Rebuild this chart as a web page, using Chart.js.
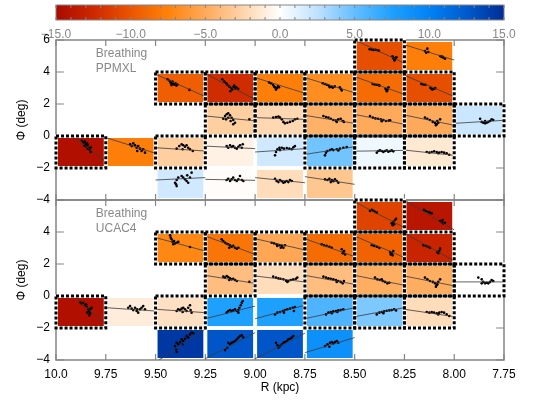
<!DOCTYPE html>
<html><head><meta charset="utf-8">
<script src="https://cdn.jsdelivr.net/npm/chart.js@4"></script>
<style>html,body{margin:0;padding:0;background:#fff}#wrap{position:relative;width:560px;height:400px}canvas{display:block}</style>
</head><body><div id="wrap"><canvas id="c" width="560" height="400"></canvas></div>
<script>
// ---------- axes ----------
const rBinEdges = [10.0, 9.75, 9.5, 9.25, 9.0, 8.75, 8.5, 8.25, 8.0, 7.75];
const xTickLabels = ['10.0','9.75','9.50','9.25','9.00','8.75','8.50','8.25','8.00','7.75'];
const phiTicks = [-4, -2, 0, 2, 4, 6];
const phiTickLabelsTop = ['\u22124','\u22122','0','2','4','6'];
const phiTickLabelsBot = ['\u22124','\u22122','0','2','4',''];
const phiBin = 2;
const cbarTicks = [-15, -10, -5, 0, 5, 10, 15];
const cbarLabels = ['\u221215.0','\u221210.0','\u22125.0','0.0','5.0','10.0','15.0'];
const cmapValues = [-15, -12.5, -10, -7.5, -5, -2.5, 0, 2.5, 5, 7.5, 10, 12.5, 15];
const cmapColors = [[170,10,0],[205,40,0],[235,85,0],[255,130,10],[255,170,90],[255,212,170],[255,255,255],[190,225,255],[100,190,255],[30,160,255],[0,130,245],[0,90,205],[0,45,150]];

// ---------- PPMXL (top panel) ----------
const ppmxlCol  = [6,7, 2,3,4,5,6,7, 3,4,5,6,7,8, 0,1,2,3,4,5,6,7, 2,3,4,5];
const ppmxlPhi0 = [4,4, 2,2,2,2,2,2, 0,0,0,0,0,0, -2,-2,-2,-2,-2,-2,-2,-2, -4,-4,-4,-4];
const ppmxlVal  = [-10.4,-7.7, -9.5,-12.3,-7.7,-6.8,-8.7,-10.4, -2.8,-2.3,-4.6,-5.0,-5.0,2.0, -14.5,-7.7,-2.8,-0.8,1.8,4.6,0.6,-1.3, 1.8,-0.15,-2.0,-3.3];
const ppmxlSig  = [1,0, 1,1,1,1,1,1, 1,1,1,1,1,1, 1,0,1,0,0,1,1,1, 0,0,0,0];
const ppmxlFitL = [6.0,5.7, 3.86,3.9,3.65,3.65,3.71,3.8, 1.25,1.15,1.29,1.35,1.31,0.79, 0.78,-0.1,-0.73,-0.63,-1.0,-1.15,-0.95,-0.88, -2.75,-2.71,-2.6,-2.54];
const ppmxlFitR = [4.55,4.75, 2.46,2.29,2.67,2.7,2.6,2.46, 0.95,1.04,0.79,0.73,0.67,0.98, -1.6,-1.08,-0.94,-0.79,-0.79,-0.67,-0.9,-1.21, -2.6,-2.77,-2.92,-3.02];
const ppmxlPts = [
 [[8.425,5.42],[8.415,5.40],[8.405,5.38],[8.395,5.39],[8.385,5.36],[8.378,5.33],[8.31,4.98],[8.305,4.85],[8.30,4.80],[8.295,4.88],[8.29,4.92],[8.30,4.72]],
 [[8.147,5.31],[8.135,5.46],[8.141,5.21],[8.130,5.25],[8.071,5.0],[8.063,4.94],[8.055,4.90],[8.046,4.83],[8.06,4.97]],
 [[9.44,3.55],[9.43,3.45],[9.425,3.35],[9.42,3.30],[9.415,3.40],[9.41,3.25],[9.405,3.20],[9.40,3.30],[9.395,3.15],[9.39,3.22],[9.42,3.18],[9.33,2.88]],
 [[9.165,3.55],[9.155,3.40],[9.145,3.30],[9.14,3.20],[9.13,3.10],[9.12,3.00],[9.115,2.90],[9.11,3.05],[9.10,2.95],[9.095,3.05],[9.085,2.95],[9.125,2.80],[9.105,3.15]],
 [[8.93,3.35],[8.92,3.30],[8.91,3.20],[8.905,3.10],[8.90,3.05],[8.895,2.95],[8.89,3.00],[8.885,3.10],[8.88,3.05],[8.895,2.90]],
 [[8.66,3.30],[8.65,3.25],[8.64,3.20],[8.63,3.15],[8.625,3.05],[8.615,3.08],[8.61,3.02],[8.575,3.05],[8.57,2.95],[8.565,2.85],[8.60,3.10]],
 [[8.41,3.25],[8.40,3.22],[8.39,3.20],[8.38,3.18],[8.345,2.95],[8.34,2.85],[8.335,2.90],[8.33,3.05],[8.338,2.80],[8.375,3.15]],
 [[8.165,3.25],[8.155,3.22],[8.145,3.20],[8.115,2.95],[8.11,2.90],[8.10,2.95],[8.095,3.00],[8.12,3.02]],
 [[9.160,1.08],[9.151,1.25],[9.143,1.36],[9.135,1.42],[9.126,1.29],[9.118,1.14],[9.110,1.0],[9.101,0.83],[9.123,0.94],[9.135,1.14],[9.146,1.04],[9.110,0.73],[9.029,1.04]],
 [[8.909,1.15],[8.895,1.19],[8.883,1.21],[8.875,1.15],[8.866,1.04],[8.858,0.88],[8.850,0.79],[8.838,0.83],[8.825,0.88],[8.811,0.94],[8.800,1.04],[8.788,1.08]],
 [[8.657,1.25],[8.644,1.19],[8.632,1.15],[8.620,1.08],[8.607,1.0],[8.594,0.96],[8.582,1.04],[8.570,1.08],[8.560,0.94],[8.554,0.88],[8.590,0.88]],
 [[8.423,1.25],[8.409,1.15],[8.396,1.1],[8.383,1.08],[8.369,1.04],[8.356,1.0],[8.343,0.94],[8.329,0.96],[8.322,0.98],[8.364,0.92]],
 [[8.147,1.15],[8.135,1.08],[8.122,1.0],[8.108,0.88],[8.096,0.81],[8.088,0.73],[8.080,0.83],[8.071,1.04],[8.085,0.94],[8.092,0.67]],
 [[7.870,1.08],[7.862,0.88],[7.854,0.83],[7.845,0.79],[7.837,0.83],[7.829,0.88],[7.820,0.94],[7.812,1.04],[7.804,1.0],[7.845,0.94]],
 [[9.87,-0.30],[9.862,-0.40],[9.855,-0.35],[9.85,-0.50],[9.845,-0.45],[9.858,-0.60],[9.848,-0.65],[9.84,-0.55],[9.835,-0.75],[9.83,-0.85],[9.825,-0.70],[9.826,-1.00],[9.84,-0.80]],
 [[9.628,-0.52],[9.620,-0.63],[9.612,-0.46],[9.603,-0.58],[9.595,-0.73],[9.587,-0.63],[9.578,-0.79],[9.570,-0.94],[9.562,-0.83],[9.553,-1.04],[9.592,-0.94]],
 [[9.394,-0.79],[9.381,-0.63],[9.369,-0.52],[9.361,-0.58],[9.352,-0.67],[9.344,-0.58],[9.336,-0.73],[9.327,-0.83],[9.313,-0.94],[9.364,-0.83]],
 [[9.143,-0.63],[9.135,-0.73],[9.126,-0.58],[9.118,-0.69],[9.110,-0.63],[9.101,-0.73],[9.092,-0.79],[9.084,-0.67],[9.076,-0.58],[9.067,-0.73],[9.062,-0.52]],
 [[8.900,-1.21],[8.895,-1.0],[8.888,-0.83],[8.878,-0.73],[8.866,-0.73],[8.855,-0.79],[8.841,-0.75],[8.828,-0.79],[8.816,-0.83],[8.808,-0.71],[8.800,-0.63],[8.875,-0.88]],
 [[8.649,-1.21],[8.644,-1.04],[8.637,-0.94],[8.624,-0.88],[8.607,-0.88],[8.590,-0.83],[8.574,-0.79],[8.557,-0.73],[8.540,-0.69],[8.615,-0.83],[8.582,-0.9]],
 [[8.389,-1.04],[8.381,-0.94],[8.373,-0.9],[8.364,-0.94],[8.356,-1.0],[8.348,-0.94],[8.339,-0.9],[8.331,-0.98],[8.322,-0.94],[8.314,-0.9],[8.306,-0.96]],
 [[8.138,-1.0],[8.125,-1.04],[8.113,-1.0],[8.101,-0.96],[8.088,-1.0],[8.075,-1.04],[8.063,-1.0],[8.051,-1.04],[8.038,-1.08],[8.025,-1.17],[8.080,-1.08]],
 [[9.402,-2.92],[9.397,-3.02],[9.394,-2.75],[9.386,-2.6],[9.369,-2.5],[9.361,-2.6],[9.352,-2.71],[9.344,-2.81],[9.336,-2.92],[9.327,-2.6],[9.319,-2.29],[9.341,-2.46],[9.394,-3.13]],
 [[9.143,-2.75],[9.135,-2.67],[9.126,-2.81],[9.118,-2.71],[9.110,-2.6],[9.101,-2.75],[9.092,-2.81],[9.084,-2.71],[9.076,-2.5],[9.067,-2.75],[9.059,-2.81]],
 [[8.900,-2.67],[8.892,-2.81],[8.883,-2.88],[8.875,-2.75],[8.866,-2.83],[8.858,-2.92],[8.850,-2.88],[8.841,-2.81],[8.833,-2.88],[8.825,-2.75],[8.816,-2.81]],
 [[8.649,-2.71],[8.637,-2.75],[8.627,-2.67],[8.615,-2.75],[8.607,-2.83],[8.599,-2.71],[8.590,-2.81],[8.582,-2.92],[8.620,-2.88]]
];

// ---------- UCAC4 (bottom panel) ----------
const ucacCol  = [6,7, 2,3,4,5,6,7, 3,4,5,6,7,8, 0,1,2,3,4,5,6,7, 2,3,4,5];
const ucacPhi0 = [4,4, 2,2,2,2,2,2, 0,0,0,0,0,0, -2,-2,-2,-2,-2,-2,-2,-2, -4,-4,-4,-4];
const ucacVal  = [-11,-14, -7.2,-8.2,-5.2,-8.7,-9.3,-12.8, -3.8,-2.0,-3.8,-4.8,-4.8,0, -14.5,-1.1,-1.8,7.5,7.5,5.8,4.3,-2.0, 14.4,12.7,12.7,8.8];
const ucacSig  = [1,0, 1,1,1,1,1,1, 1,0,1,1,1,1, 1,0,1,0,0,1,1,1, 0,0,0,0];
const ucacFitL = [5.88,6.0, 3.65,3.75,3.58,3.58,3.75,3.92, 1.29,1.25,1.29,1.29,1.25,0.88, 0.95,-0.73,-0.83,-1.42,-1.42,-1.42,-1.29,-0.83, -4.15,-3.92,-3.92,-3.54];
const ucacFitR = [4.27,4.13, 2.81,2.6,2.88,2.46,2.40,2.19, 0.79,0.88,0.73,0.67,0.63,0.88, -1.77,-0.94,-1.04,-0.63,-0.58,-0.73,-0.73,-1.29, -2.05,-2.29,-2.33,-2.6];
const ucacPts = [
 [[8.423,5.31],[8.414,5.38],[8.406,5.33],[8.398,5.27],[8.389,5.21],[8.314,4.54],[8.306,4.63],[8.297,4.75],[8.309,4.42],[8.292,4.83],[8.302,4.48]],
 [[8.152,5.38],[8.142,5.31],[8.130,5.25],[8.122,5.21],[8.113,5.17],[8.071,4.69],[8.063,4.63],[8.055,4.54],[8.046,4.58],[8.058,4.75]],
 [[9.427,3.79],[9.424,3.65],[9.419,3.54],[9.414,3.38],[9.411,3.23],[9.402,3.29],[9.394,3.33],[9.386,3.38],[9.407,3.44],[9.327,3.06]],
 [[9.168,3.54],[9.160,3.44],[9.151,3.33],[9.143,3.27],[9.135,3.23],[9.126,3.17],[9.118,3.08],[9.110,3.13],[9.101,3.02],[9.092,2.96],[9.084,3.02],[9.130,3.02]],
 [[8.917,3.33],[8.905,3.29],[8.892,3.23],[8.878,3.17],[8.866,3.13],[8.858,3.02],[8.850,3.17],[8.871,3.02],[8.889,3.13]],
 [[8.666,3.23],[8.654,3.17],[8.641,3.13],[8.627,3.08],[8.615,3.02],[8.565,2.92],[8.557,2.75],[8.548,2.6],[8.553,2.81],[8.560,2.67]],
 [[8.414,3.17],[8.402,3.13],[8.389,3.08],[8.376,3.0],[8.322,2.75],[8.314,2.67],[8.306,2.81],[8.319,2.6],[8.309,2.54]],
 [[8.155,3.17],[8.142,3.13],[8.130,3.08],[8.122,3.02],[8.085,2.75],[8.075,2.81],[8.071,2.96],[8.080,2.67]],
 [[9.160,1.21],[9.151,1.15],[9.143,1.25],[9.135,1.19],[9.126,1.10],[9.118,1.04],[9.110,1.08],[9.101,1.0],[9.092,0.94],[9.029,0.88],[9.130,1.0]],
 [[8.909,1.21],[8.895,1.15],[8.883,1.10],[8.872,1.08],[8.858,1.04],[8.845,0.96],[8.833,0.94],[8.821,1.0],[8.808,1.04],[8.795,1.08],[8.788,1.15],[8.838,0.88]],
 [[8.657,1.21],[8.644,1.15],[8.632,1.10],[8.620,1.08],[8.607,1.04],[8.594,1.0],[8.582,0.94],[8.570,0.88],[8.560,0.79],[8.554,0.94],[8.590,0.88]],
 [[8.398,1.15],[8.386,1.04],[8.373,1.0],[8.359,0.94],[8.348,0.88],[8.336,0.79],[8.326,0.83],[8.364,1.04]],
 [[8.147,1.15],[8.135,1.04],[8.122,0.94],[8.108,0.88],[8.096,0.79],[8.088,0.67],[8.080,0.88],[8.071,1.04],[8.085,0.73],[8.092,0.58]],
 [[7.879,1.15],[7.862,1.04],[7.854,0.88],[7.845,0.79],[7.837,0.83],[7.829,0.79],[7.820,0.88],[7.812,1.0],[7.804,0.94],[7.862,0.79]],
 [[9.879,-0.38],[9.871,-0.46],[9.863,-0.42],[9.854,-0.58],[9.846,-0.67],[9.838,-0.83],[9.833,-0.94],[9.843,-1.04],[9.829,-1.08],[9.826,-0.79],[9.821,-0.73],[9.849,-0.52],[9.833,-1.21]],
 [[9.637,-0.73],[9.628,-0.63],[9.620,-0.79],[9.612,-0.88],[9.603,-0.73],[9.595,-0.94],[9.587,-1.04],[9.578,-0.83],[9.570,-0.73],[9.562,-0.63],[9.553,-0.83],[9.592,-0.83]],
 [[9.394,-0.94],[9.386,-0.83],[9.377,-0.88],[9.369,-0.79],[9.361,-0.73],[9.352,-0.83],[9.344,-0.94],[9.336,-0.73],[9.327,-0.58],[9.324,-0.88],[9.319,-1.04],[9.364,-1.0]],
 [[9.143,-1.04],[9.135,-0.94],[9.126,-0.88],[9.118,-0.94],[9.110,-0.9],[9.101,-0.83],[9.092,-0.94],[9.084,-0.88],[9.079,-0.73],[9.072,-0.58],[9.067,-0.42],[9.062,-0.31],[9.084,-1.04]],
 [[8.900,-1.15],[8.888,-1.04],[8.875,-1.0],[8.861,-0.94],[8.850,-0.88],[8.838,-0.83],[8.825,-0.79],[8.811,-0.73],[8.800,-0.69],[8.805,-0.94],[8.855,-1.04]],
 [[8.644,-1.15],[8.632,-1.04],[8.620,-1.0],[8.607,-0.96],[8.594,-0.94],[8.582,-0.9],[8.570,-0.88],[8.557,-0.83],[8.615,-1.08],[8.587,-1.0]],
 [[8.389,-1.15],[8.376,-1.04],[8.364,-1.0],[8.352,-0.96],[8.339,-0.92],[8.326,-0.9],[8.314,-0.88],[8.302,-0.83],[8.292,-0.9],[8.356,-1.08]],
 [[8.138,-1.0],[8.125,-1.04],[8.113,-1.0],[8.101,-1.04],[8.088,-1.08],[8.075,-1.04],[8.063,-1.0],[8.051,-1.04],[8.038,-1.15],[8.025,-1.25],[8.080,-1.15]],
 [[9.402,-3.13],[9.397,-3.33],[9.394,-2.92],[9.386,-3.02],[9.377,-2.88],[9.369,-2.71],[9.361,-2.81],[9.352,-2.67],[9.344,-2.5],[9.336,-2.6],[9.327,-2.4],[9.319,-2.29],[9.310,-2.33],[9.394,-3.5],[9.364,-3.02]],
 [[9.151,-3.38],[9.140,-3.23],[9.126,-3.02],[9.118,-2.92],[9.110,-2.88],[9.101,-2.81],[9.092,-2.71],[9.084,-2.6],[9.076,-2.5],[9.067,-2.46],[9.059,-2.6],[9.135,-2.92]],
 [[8.895,-2.92],[8.888,-3.08],[8.883,-3.23],[8.875,-3.13],[8.866,-3.02],[8.858,-2.92],[8.850,-2.88],[8.841,-2.81],[8.833,-2.71],[8.825,-2.67],[8.816,-2.6],[8.808,-2.5]],
 [[8.649,-3.13],[8.637,-3.02],[8.624,-2.92],[8.615,-2.88],[8.607,-2.96],[8.599,-2.88],[8.590,-2.81],[8.582,-2.92],[8.627,-3.17]]
];

// ---------- helpers ----------
function cmap(v) {
  if (v <= cmapValues[0]) return 'rgb(' + cmapColors[0].join(',') + ')';
  for (let i = 1; i < cmapValues.length; i++) {
    if (v <= cmapValues[i]) {
      const t = (v - cmapValues[i-1]) / (cmapValues[i] - cmapValues[i-1]);
      const a = cmapColors[i-1], b = cmapColors[i];
      return 'rgb(' + a.map((c, k) => Math.round(c + t * (b[k] - c))).join(',') + ')';
    }
  }
  return 'rgb(' + cmapColors[cmapColors.length-1].join(',') + ')';
}
function clipFit(rl, rr, p0, pl, pr) {
  const p1 = p0 + phiBin;
  let t0 = 0, t1 = 1;
  const d = pr - pl;
  if (Math.abs(d) > 1e-9) {
    let ta = (p0 - pl) / d, tb = (p1 - pl) / d;
    if (ta > tb) { const s = ta; ta = tb; tb = s; }
    t0 = Math.max(0, ta); t1 = Math.min(1, tb);
  }
  return [{x: rl + t0 * (rr - rl), y: pl + t0 * d}, {x: rl + t1 * (rr - rl), y: pl + t1 * d}];
}

const panels = [
  {axis: 'yTop', col: ppmxlCol, phi0: ppmxlPhi0, val: ppmxlVal, sig: ppmxlSig, fitL: ppmxlFitL, fitR: ppmxlFitR, pts: ppmxlPts, label: ['Breathing', 'PPMXL']},
  {axis: 'yBot', col: ucacCol, phi0: ucacPhi0, val: ucacVal, sig: ucacSig, fitL: ucacFitL, fitR: ucacFitR, pts: ucacPts, label: ['Breathing', 'UCAC4']}
];

const datasets = [];
panels.forEach(p => {
  p.col.forEach((c, i) => {
    datasets.push({
      data: clipFit(rBinEdges[c], rBinEdges[c+1], p.phi0[i], p.fitL[i], p.fitR[i]),
      showLine: true, borderColor: '#3a3a3a', borderWidth: 0.8, pointRadius: 0,
      xAxisID: 'x', yAxisID: p.axis
    });
  });
  const all = [];
  p.pts.forEach(cell => cell.forEach(q => all.push({x: q[0], y: q[1]})));
  datasets.push({data: all, pointRadius: 1.3, pointBackgroundColor: '#000', pointBorderWidth: 0, xAxisID: 'x', yAxisID: p.axis});
});

const GRAY = '#858585';
const plugin = {
  id: 'cells',
  beforeDraw(chart) {
    const ctx = chart.ctx;
    ctx.save(); ctx.fillStyle = '#fff'; ctx.fillRect(0, 0, chart.width, chart.height); ctx.restore();
  },
  beforeDatasetsDraw(chart) {
    const ctx = chart.ctx, xs = chart.scales.x, ca = chart.chartArea;
    ctx.save();
    panels.forEach(p => {
      const ys = chart.scales[p.axis];
      p.col.forEach((c, i) => {
        const xl = xs.getPixelForValue(rBinEdges[c]), xr = xs.getPixelForValue(rBinEdges[c+1]);
        const yt = ys.getPixelForValue(p.phi0[i] + phiBin), yb = ys.getPixelForValue(p.phi0[i]);
        ctx.fillStyle = cmap(p.val[i]);
        ctx.fillRect(xl + 2, yt + 2, xr - xl - 4, yb - yt - 4);
      });
    });
    // panel frames and inward ticks
    panels.forEach(p => {
      const ys = chart.scales[p.axis];
      ctx.strokeStyle = GRAY; ctx.lineWidth = 1.5; ctx.setLineDash([]);
      ctx.strokeRect(ca.left, ys.top, ca.right - ca.left, ys.bottom - ys.top);
      ctx.lineWidth = 1.2;
      ctx.beginPath();
      rBinEdges.forEach(r => {
        const px = xs.getPixelForValue(r);
        ctx.moveTo(px, ys.top); ctx.lineTo(px, ys.top + 6);
        ctx.moveTo(px, ys.bottom); ctx.lineTo(px, ys.bottom - 6);
      });
      phiTicks.forEach(v => {
        const py = ys.getPixelForValue(v);
        ctx.moveTo(ca.left, py); ctx.lineTo(ca.left + 8, py);
        ctx.moveTo(ca.right, py); ctx.lineTo(ca.right - 8, py);
      });
      ctx.stroke();
      ctx.fillStyle = '#888'; ctx.font = "12px 'Liberation Sans', Arial, sans-serif";
      ctx.textBaseline = 'middle'; ctx.textAlign = 'left';
      ctx.fillText(p.label[0], xs.getPixelForValue(9.80), ys.getPixelForValue(5.12));
      ctx.fillText(p.label[1], xs.getPixelForValue(9.80), ys.getPixelForValue(4.22));
    });
    ctx.restore();
  },
  afterDatasetsDraw(chart) {
    const ctx = chart.ctx, xs = chart.scales.x;
    ctx.save();
    ctx.lineWidth = 3;
    ['#fff', '#000'].forEach((col, pass) => {
      ctx.strokeStyle = col;
      ctx.setLineDash(pass ? [3, 2] : []);
      panels.forEach(p => {
        const ys = chart.scales[p.axis];
        p.col.forEach((c, i) => {
          if (!p.sig[i]) return;
          const xl = xs.getPixelForValue(rBinEdges[c]), xr = xs.getPixelForValue(rBinEdges[c+1]);
          const yt = ys.getPixelForValue(p.phi0[i] + phiBin), yb = ys.getPixelForValue(p.phi0[i]);
          ctx.strokeRect(xl, yt, xr - xl, yb - yt);
        });
      });
    });
    ctx.restore();
  },
  afterDraw(chart) {
    const ctx = chart.ctx;
    ctx.save();
    const cb = chart.scales.cb;
    const x0 = cb.getPixelForValue(-15), x1 = cb.getPixelForValue(15);
    const top = cb.top + 5, h = 15;
    for (let px = Math.floor(x0); px < Math.ceil(x1); px++) {
      ctx.fillStyle = cmap(cb.getValueForPixel(px + 0.5));
      ctx.fillRect(px, top, 1, h);
    }
    ctx.strokeStyle = GRAY; ctx.lineWidth = 1;
    ctx.strokeRect(x0, top, x1 - x0, h);
    ctx.beginPath();
    for (let v = -15; v <= 15; v++) {
      const px = cb.getPixelForValue(v);
      ctx.moveTo(px, top); ctx.lineTo(px, top + 3);
      ctx.moveTo(px, top + h); ctx.lineTo(px, top + h - 3);
    }
    ctx.stroke();
    ctx.restore();
  }
};

Chart.defaults.font.family = "'Liberation Sans', Arial, sans-serif";
Chart.defaults.font.size = 12;
Chart.defaults.color = '#000';

const yAxis = (labels) => ({
  type: 'linear', position: 'left', stack: 'phi', stackWeight: 1, min: -4, max: 6,
  afterBuildTicks: s => { s.ticks = phiTicks.map(v => ({value: v})); },
  ticks: {padding: 6, autoSkip: false, callback: v => labels[phiTicks.indexOf(v)]},
  grid: {display: false, drawTicks: false}, border: {display: false},
  title: {display: true, text: '\u03a6 (deg)', font: {size: 12}},
  afterFit: s => { s.width = 46; }
});

new Chart(document.getElementById('c'), {
  type: 'scatter',
  data: {datasets},
  options: {
    responsive: false, animation: false, events: [],
    plugins: {legend: {display: false}, tooltip: {enabled: false}},
    layout: {padding: {left: 10, right: 56, top: 0, bottom: 0}},
    scales: {
      x: {
        type: 'linear', position: 'bottom', reverse: true, min: 7.75, max: 10,
        afterBuildTicks: s => { s.ticks = rBinEdges.map(v => ({value: v})); },
        ticks: {padding: 7, autoSkip: false, maxRotation: 0, callback: v => xTickLabels[rBinEdges.indexOf(v)]},
        grid: {display: false, drawTicks: false}, border: {display: false},
        title: {display: true, text: 'R (kpc)', padding: {top: 0, bottom: 5}},
        afterFit: s => { s.height = 40; }
      },
      cb: {
        type: 'linear', axis: 'x', position: 'top', min: -15, max: 15,
        afterBuildTicks: s => { s.ticks = cbarTicks.map(v => ({value: v})); },
        ticks: {color: '#888', padding: -2, autoSkip: false, maxRotation: 0, callback: v => cbarLabels[cbarTicks.indexOf(v)]},
        grid: {display: false, drawTicks: false}, border: {display: false},
        afterFit: s => { s.height = 40; }
      },
      yBot: yAxis(phiTickLabelsBot),
      yTop: yAxis(phiTickLabelsTop)
    }
  },
  plugins: [plugin]
});
</script></body></html>
